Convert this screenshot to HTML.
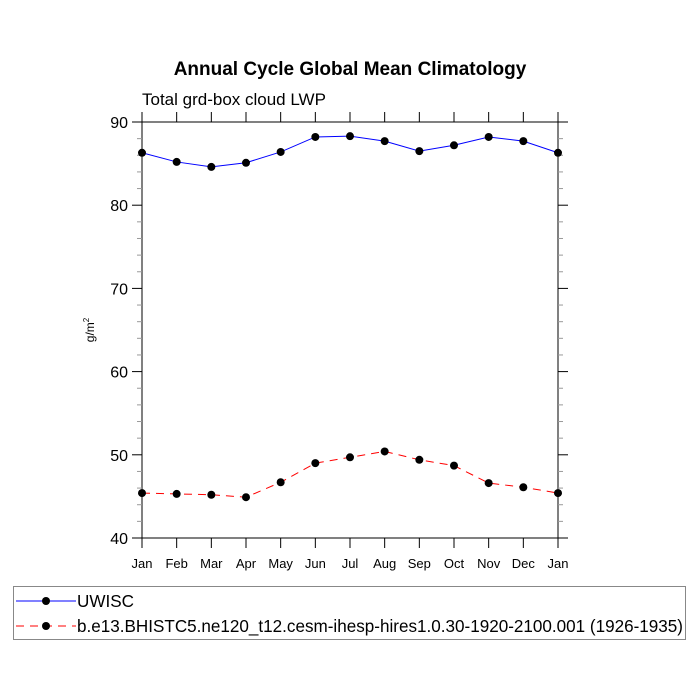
<!DOCTYPE html>
<html><head><meta charset="utf-8"><style>
body{margin:0;background:#fff;}
svg{display:block;font-family:"Liberation Sans",sans-serif;}
</style></head><body>
<svg id="chart" width="700" height="700" viewBox="0 0 700 700">
<text x="350" y="75" text-anchor="middle" font-size="19" font-weight="bold">Annual Cycle Global Mean Climatology</text>
<text x="142" y="105" font-size="17">Total grd-box cloud LWP</text>
<text transform="translate(94,330) rotate(-90)" text-anchor="middle" font-size="12">g/m<tspan dy="-5" font-size="8">2</tspan></text>
<g id="axes"></g>
<g id="series"></g>
<g>
<rect x="13.5" y="586.5" width="672" height="53" fill="none" stroke="#888"/>
<g>
<line x1="16" y1="601" x2="76" y2="601" stroke="#0000ff" stroke-width="1"/>
<circle cx="46" cy="601" r="4" fill="#000"/>
<text x="77" y="607" font-size="17.1">UWISC</text></g>
<g>
<line x1="16" y1="626" x2="76" y2="626" stroke="#ff0000" stroke-width="1" stroke-dasharray="8,6"/>
<circle cx="46" cy="626" r="4" fill="#000"/>
<text x="77" y="632" font-size="17.1" textLength="606" lengthAdjust="spacingAndGlyphs">b.e13.BHISTC5.ne120_t12.cesm-ihesp-hires1.0.30-1920-2100.001 (1926-1935)</text></g>
</g>
</svg>
<script>
const months=["Jan","Feb","Mar","Apr","May","Jun","Jul","Aug","Sep","Oct","Nov","Dec","Jan"];
const uwisc=[86.3,85.2,84.6,85.1,86.4,88.2,88.3,87.7,86.5,87.2,88.2,87.7,86.3];
const cesm=[45.4,45.3,45.2,44.9,46.7,49.0,49.7,50.4,49.4,48.7,46.6,46.1,45.4];
const yTicks=[40,50,60,70,80,90];
const NS="http://www.w3.org/2000/svg";
const L=142,R=558,T=122,B=538,ymin=40,ymax=90;
const xs=i=>L+(R-L)*i/(months.length-1);
const ys=v=>B-(B-T)*(v-ymin)/(ymax-ymin);
function mk(tag,attrs,parent){const e=document.createElementNS(NS,tag);for(const k in attrs)e.setAttribute(k,attrs[k]);parent.appendChild(e);return e;}
const ax=document.getElementById('axes');
const fr=mk('rect',{x:L,y:T,width:R-L,height:B-T,fill:'none',stroke:'#000','stroke-width':1},ax);


months.forEach((m,i)=>{
 const x=xs(i);
 mk('line',{x1:x,y1:B,x2:x,y2:B+10,stroke:'#000'},ax);
 mk('line',{x1:x,y1:T,x2:x,y2:T-10,stroke:'#000'},ax);
 const t=mk('text',{x:x,y:B+30,'text-anchor':'middle','font-size':13},ax);
 t.textContent=m;
 
 
});
for(let v=ymin;v<=ymax;v+=2){
 const y=ys(v);
 if(v%10===0){
  mk('line',{x1:L-10,y1:y,x2:L,y2:y,stroke:'#000'},ax);
  mk('line',{x1:R,y1:y,x2:R+10,y2:y,stroke:'#000'},ax);
 }else{
  mk('line',{x1:L-5,y1:y,x2:L,y2:y,stroke:'#999'},ax);
  mk('line',{x1:R,y1:y,x2:R+5,y2:y,stroke:'#999'},ax);
 }
}
yTicks.forEach(v=>{
 const t=mk('text',{x:L-14,y:ys(v)+6,'text-anchor':'end','font-size':16},ax);
 t.textContent=v;
 
 
});
const sg=document.getElementById('series');
function draw(vals,color,dash,name){
 const g=mk('g',{},sg);
 
 
 const p=mk('polyline',{points:vals.map((v,i)=>xs(i)+','+ys(v)).join(' '),fill:'none',stroke:color,'stroke-width':1,'stroke-dasharray':dash},g);
 
 
 vals.forEach((v,i)=>{
  const c=mk('circle',{cx:xs(i),cy:ys(v),r:4,fill:'#000'},g);
  
  
 });
}
draw(uwisc,'#0000ff','none','uwisc-series');
draw(cesm,'#ff0000','8,6','cesm-series');
</script>
</body></html>
